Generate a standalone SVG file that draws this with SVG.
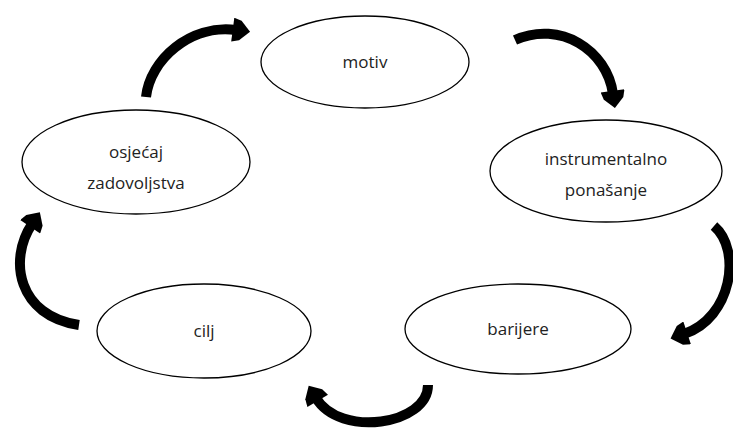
<svg xmlns="http://www.w3.org/2000/svg" width="733" height="428" viewBox="0 0 733 428">
<defs>
<style>
.node ellipse{fill:#fff;stroke:#000;stroke-width:1.3}
.node text{font-family:"Open Sans","Liberation Sans",sans-serif;font-size:17px;fill:#222;text-anchor:middle}
.arr{fill:none;stroke:#000;stroke-width:10;marker-end:url(#head)}
</style>
<marker id="head" markerUnits="userSpaceOnUse" markerWidth="24" markerHeight="24" refX="3" refY="11" orient="auto" viewBox="0 0 18 22">
<path d="M0,0 L7,2 L16,11 L7,20 L0,22 z" fill="#000"/>
</marker>
</defs>
<rect width="733" height="428" fill="#fff"/>
<g id="connectors">
<path class="arr" d="M146,97 C150,60 190,24 236,30"/>
<path class="arr" d="M515,40 C560,20 607,50 613,94"/>
<path class="arr" d="M714,226 C742,250 732,318 684,334"/>
<path class="arr" d="M428,385 C428,425 340,438 316,398"/>
<path class="arr" d="M79,325 C18,316 8,260 32,224"/>
</g>
<g id="motiv" class="node"><ellipse cx="365" cy="62" rx="104" ry="46"/><text x="365" y="68">motiv</text></g>
<g id="osjecaj" class="node"><ellipse cx="136" cy="162" rx="114" ry="52"/><text x="136" y="158">osjećaj</text><text x="136" y="189">zadovoljstva</text></g>
<g id="instrumentalno" class="node"><ellipse cx="606" cy="171" rx="116" ry="51"/><text x="606" y="165">instrumentalno</text><text x="606" y="196">ponašanje</text></g>
<g id="cilj" class="node"><ellipse cx="204" cy="331" rx="107" ry="47"/><text x="204" y="337">cilj</text></g>
<g id="barijere" class="node"><ellipse cx="518" cy="329" rx="113" ry="45"/><text x="518" y="335">barijere</text></g>
</svg>
